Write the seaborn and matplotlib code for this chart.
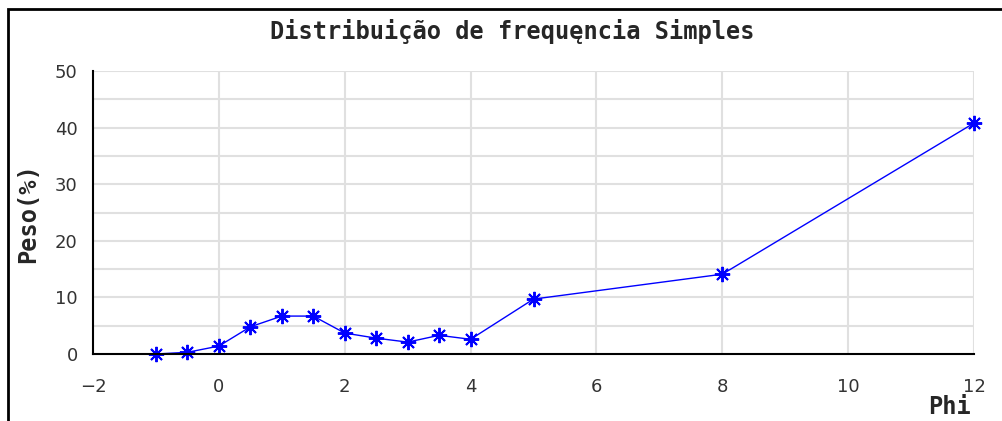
# -*- coding: utf-8 -*-
"""Distribuição de frequęncia simples (Phi x Peso %)"""
import pandas as pd
import matplotlib
matplotlib.use("Agg")
import matplotlib.pyplot as plt
import seaborn as sns
from matplotlib.patches import Rectangle
from matplotlib.ticker import MultipleLocator

sns.set_style("white")
plt.rcParams["font.family"] = ["DejaVu Sans"]

PHI = [-1, -0.5, 0, 0.5, 1, 1.5, 2, 2.5, 3, 3.5, 4, 5, 8, 12]
PESO = [0.0, 0.3, 1.4, 4.8, 6.7, 6.7, 3.7, 2.8, 2.1, 3.3, 2.6, 9.7, 14.1, 40.8]
X_TICKS = [-2, 0, 2, 4, 6, 8, 10, 12]
Y_TICKS = [0, 10, 20, 30, 40, 50]

df = pd.DataFrame({"Phi": PHI, "Peso": PESO})

fig = plt.figure(figsize=(10.03, 4.21), dpi=100)
ax = fig.add_axes([93 / 1003, 1 - 354 / 421, (974 - 93) / 1003, (354 - 71) / 421])

# moldura da imagem
fig.patches.append(Rectangle((8 / 1003, -0.1), 1.2, 1 - 9 / 421 + 0.1, transform=fig.transFigure,
                             fill=False, edgecolor="black", linewidth=2))

sns.lineplot(data=df, x="Phi", y="Peso", ax=ax, color="blue", linewidth=1,
             marker=(8, 2, 0), markersize=11, markeredgewidth=1.4,
             markeredgecolor="blue", clip_on=False)

ax.set_xlim(-2, 12)
ax.set_ylim(0, 50)
ax.set_xticks(X_TICKS)
ax.set_yticks(Y_TICKS)
ax.set_xticklabels([str(t).replace("-", "−") for t in X_TICKS])
ax.xaxis.set_minor_locator(MultipleLocator(1))
ax.yaxis.set_minor_locator(MultipleLocator(5))

# grade: verticais a cada 2, horizontais a cada 5
for xv in X_TICKS[1:]:
    ax.axvline(xv, color="#e0e0e0", linewidth=1.5, zorder=0)
for yv in range(5, 55, 5):
    ax.axhline(yv, color="#e0e0e0", linewidth=1.5, zorder=0)

for s in ["top", "right"]:
    ax.spines[s].set_visible(False)
for s in ["left", "bottom"]:
    ax.spines[s].set_color("black")
    ax.spines[s].set_linewidth(1.5)

ax.tick_params(axis="both", which="major", direction="in", length=6, width=1.5,
               color="black", labelsize=13, labelcolor="#333333")
ax.tick_params(axis="both", which="minor", direction="in", length=4, width=1.5, color="black")
ax.tick_params(axis="x", which="major", pad=17)
ax.tick_params(axis="y", which="major", pad=11)
ax.set_xlabel("")
ax.set_ylabel("")

fig.text(512 / 1003, 1 - 32 / 421, "Distribuição de frequęncia Simples", ha="center", va="center",
         fontsize=17, fontweight="bold", family=["DejaVu Sans Mono"])
fig.text(28 / 1003, 1 - 213 / 421, "Peso(%)", ha="center", va="center", rotation=90,
         fontsize=17, fontweight="bold", family=["DejaVu Sans Mono"])
fig.text(950 / 1003, 1 - 407 / 421, "Phi", ha="center", va="center",
         fontsize=17, fontweight="bold", family=["DejaVu Sans Mono"])

fig.savefig("out.png", dpi=100)
plt.close(fig)
